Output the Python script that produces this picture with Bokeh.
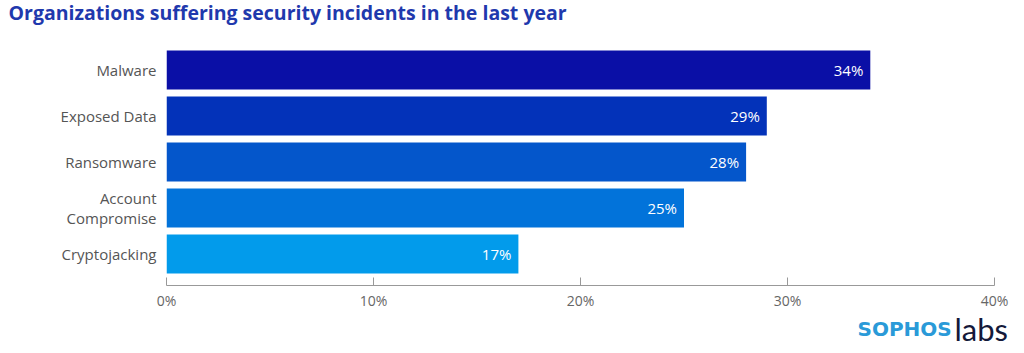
from bokeh.plotting import figure
from bokeh.models import ColumnDataSource, Label, FixedTicker, Range1d
from bokeh.embed import file_html
from bokeh.resources import INLINE
from bokeh.core.properties import value

categories = ["Malware", "Exposed Data", "Ransomware", "Account\nCompromise", "Cryptojacking"]
values = [34, 29, 28, 25, 17]
colors = ["#0a0fa6", "#0332b9", "#0456cb", "#0273da", "#029beb"]
x_ticks = [0, 10, 20, 30, 40]
title = "Organizations suffering security incidents in the last year"

n = len(categories)
ypos = [n - 1 - i for i in range(n)]
src = ColumnDataSource(dict(
    y=ypos, v=values, c=colors, lab=[f"{v}%" for v in values], cat=categories))

p = figure(width=1024, height=353, output_backend="svg", toolbar_location=None,
           x_range=Range1d(0, 40), y_range=Range1d(-0.685, n - 1 + 0.685),
           min_border_left=166, min_border_right=30, min_border_top=38,
           min_border_bottom=68)
p.outline_line_color = None
p.background_fill_color = "white"
p.border_fill_color = "white"
p.xgrid.visible = False
p.ygrid.visible = False

p.hbar(y="y", right="v", left=0, height=0.85, color="c", source=src, line_color=None)
p.text(x="v", y="y", text="lab", source=src, text_color="white",
       text_align="right", text_baseline="middle", x_offset=-7,
       text_font=value("Open Sans"), text_font_size="15px")

# y axis
p.yaxis.ticker = FixedTicker(ticks=ypos)
p.yaxis.major_label_overrides = {y: c for y, c in zip(ypos, categories)}
p.yaxis.axis_line_color = None
p.yaxis.major_tick_line_color = None
p.yaxis.minor_tick_line_color = None
p.yaxis.major_label_standoff = 4
p.yaxis.major_label_text_font = "Open Sans"
p.yaxis.major_label_text_font_size = "15px"
p.yaxis.major_label_text_color = "#555555"
p.yaxis.major_label_text_line_height = 1.0

# x axis
p.xaxis.ticker = FixedTicker(ticks=x_ticks)
p.xaxis.major_label_overrides = {t: f"{t}%" for t in x_ticks}
p.xaxis.axis_line_color = "#999999"
p.xaxis.major_tick_line_color = "#999999"
p.xaxis.major_tick_in = 8
p.xaxis.major_tick_out = 0
p.xaxis.minor_tick_line_color = None
p.xaxis.major_label_standoff = 5
p.xaxis.major_label_text_font = "Open Sans"
p.xaxis.major_label_text_font_size = "14px"
p.xaxis.major_label_text_color = "#666666"

# title (in the top side panel so it is not clipped to the frame)
p.add_layout(Label(x=-158, y=26, x_units="screen", y_units="screen", text=title,
                   text_font="Open Sans", text_font_style="bold", text_font_size="19.5px",
                   text_color="#1f39ad", text_baseline="middle"), "above")

# logo (in side panels so it is not clipped to the frame)
p.add_layout(Label(x=691, y=8, x_units="screen", y_units="screen", text="SOPHOS",
                   text_font="DejaVu Sans", text_font_style="bold", text_font_size="20px",
                   text_color="#2a9ad8", text_baseline="middle"), "below")
p.add_layout(Label(x=951, y=-43, x_units="screen", y_units="screen", text="labs",
                   text_font="Lato", text_font_size="31px",
                   text_color="#14193a", text_baseline="middle"), "left")

open("out.html", "w").write(file_html(p, INLINE))
